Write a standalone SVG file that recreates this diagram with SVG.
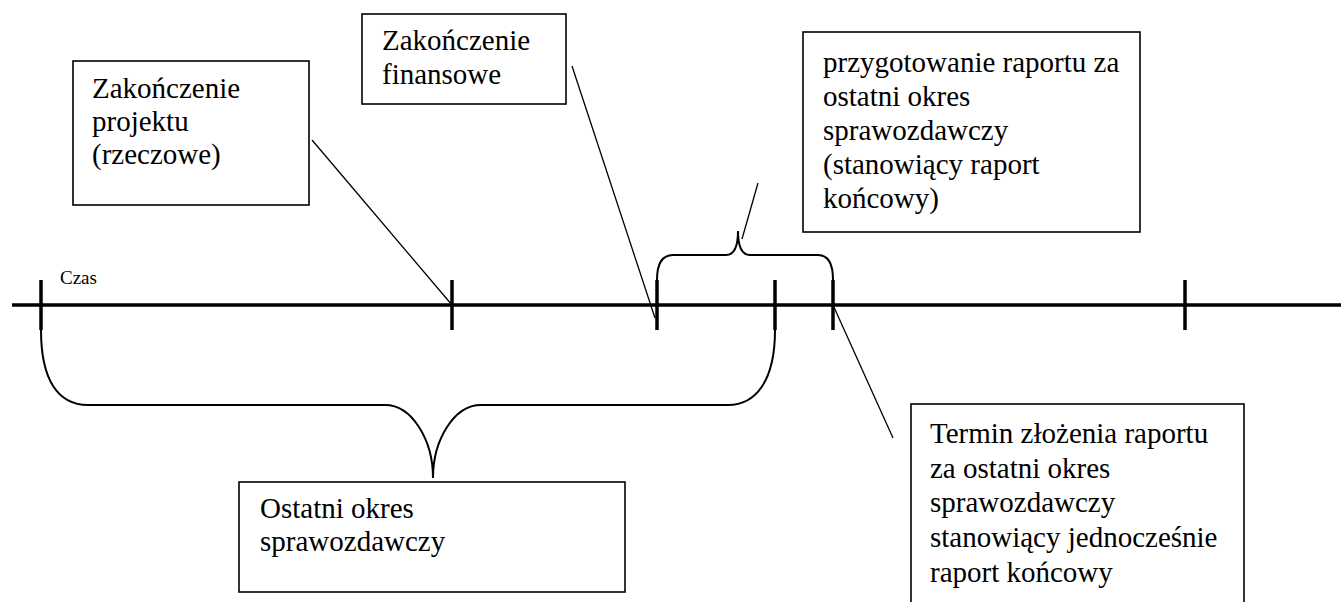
<svg xmlns="http://www.w3.org/2000/svg" width="1341" height="602" viewBox="0 0 1341 602">
<style>
.box{fill:#fff;stroke:#000;stroke-width:1.6}
.axis{stroke:#000;stroke-width:3.5;fill:none}
.tick{stroke:#000;stroke-width:3.5;fill:none}
.brace{stroke:#000;stroke-width:2;fill:none}
.call{stroke:#000;stroke-width:1.3;fill:none}
</style>
<rect width="1341" height="602" fill="#fff"/>
<g id="timeline">
<line class="axis" x1="12" y1="305" x2="1341" y2="305"/>
<line class="tick" x1="41" y1="280" x2="41" y2="330"/>
<line class="tick" x1="452" y1="280" x2="452" y2="330"/>
<line class="tick" x1="657" y1="280" x2="657" y2="330"/>
<line class="tick" x1="775" y1="280" x2="775" y2="330"/>
<line class="tick" x1="833" y1="280" x2="833" y2="330"/>
<line class="tick" x1="1185" y1="280" x2="1185" y2="330"/>
<text x="60" y="284" font-family="Liberation Serif, serif" font-size="19">Czas</text>
</g>
<g id="connectors">
<path class="brace" d="M41,330 C41,380 58,405 88,405 L385,405 C412,405 433,440 433,478 C433,440 454,405 481,405 L728,405 C755,405 775,382 775,330"/>
<path class="brace" d="M657,280 C657,263 662,255 673,255 L726,255 C734,255 738,246 738,231 C738,246 742,255 750,255 L818,255 C828,255 833,263 833,280"/>
<line class="call" x1="312" y1="140" x2="452" y2="305"/>
<line class="call" x1="572" y1="66" x2="655" y2="318"/>
<line class="call" x1="742" y1="239" x2="758" y2="183"/>
<line class="call" x1="833" y1="305" x2="893" y2="438"/>
</g>
<g id="box-projekt">
<rect class="box" x="73" y="61" width="236" height="144"/>
<text x="92" y="98" font-family="Liberation Serif, serif" font-size="29">Zakończenie</text>
<text x="92" y="131" font-family="Liberation Serif, serif" font-size="29">projektu</text>
<text x="92" y="164" font-family="Liberation Serif, serif" font-size="29">(rzeczowe)</text>
</g>
<g id="box-finansowe">
<rect class="box" x="362" y="14" width="204" height="90"/>
<text x="382" y="50" font-family="Liberation Serif, serif" font-size="29">Zakończenie</text>
<text x="382" y="84" font-family="Liberation Serif, serif" font-size="29">finansowe</text>
</g>
<g id="box-przygotowanie">
<rect class="box" x="803" y="32" width="337" height="200"/>
<text x="823" y="72" font-family="Liberation Serif, serif" font-size="29">przygotowanie raportu za</text>
<text x="823" y="106" font-family="Liberation Serif, serif" font-size="29">ostatni okres</text>
<text x="823" y="140" font-family="Liberation Serif, serif" font-size="29">sprawozdawczy</text>
<text x="823" y="174" font-family="Liberation Serif, serif" font-size="29">(stanowiący raport</text>
<text x="823" y="208" font-family="Liberation Serif, serif" font-size="29">końcowy)</text>
</g>
<g id="box-termin">
<rect class="box" x="911" y="404" width="333" height="210"/>
<text x="930" y="443" font-family="Liberation Serif, serif" font-size="29">Termin złożenia raportu</text>
<text x="930" y="478" font-family="Liberation Serif, serif" font-size="29">za ostatni okres</text>
<text x="930" y="512" font-family="Liberation Serif, serif" font-size="29">sprawozdawczy</text>
<text x="930" y="547" font-family="Liberation Serif, serif" font-size="29">stanowiący jednocześnie</text>
<text x="930" y="582" font-family="Liberation Serif, serif" font-size="29">raport końcowy</text>
</g>
<g id="box-okres">
<rect class="box" x="239" y="482" width="386" height="110"/>
<text x="260" y="518" font-family="Liberation Serif, serif" font-size="29">Ostatni okres</text>
<text x="260" y="551" font-family="Liberation Serif, serif" font-size="29">sprawozdawczy</text>
</g>
</svg>
